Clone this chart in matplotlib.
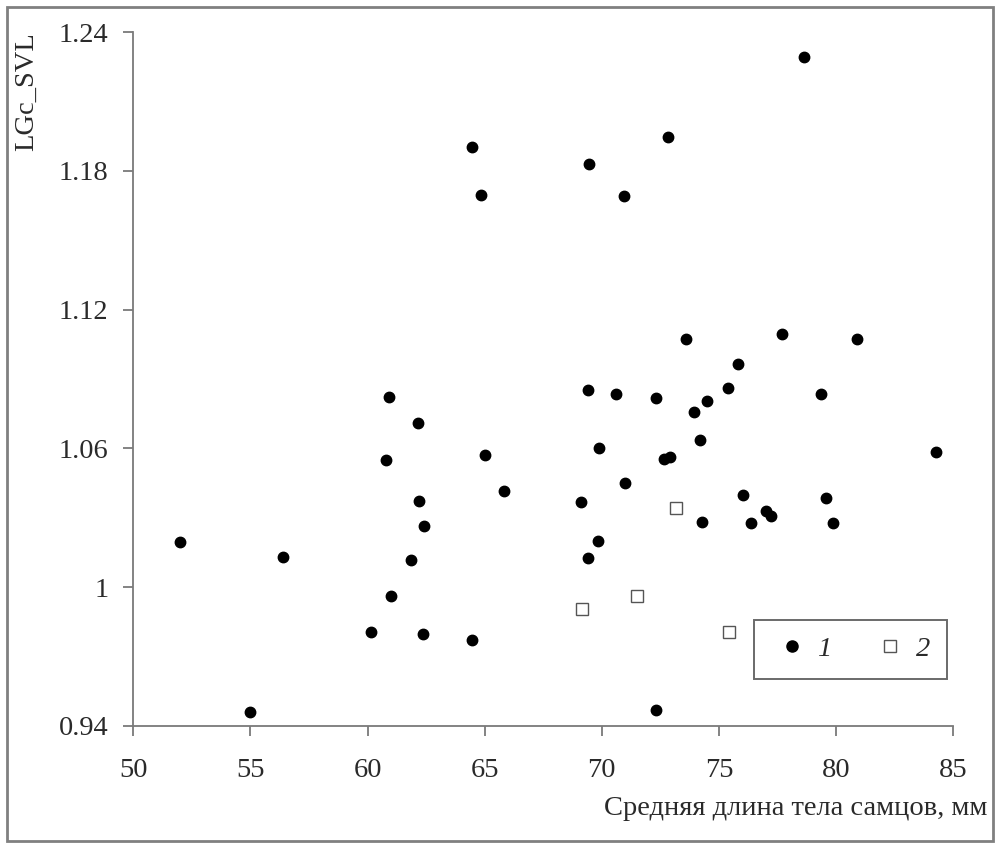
import matplotlib
matplotlib.use("Agg")
import matplotlib.pyplot as plt
from matplotlib.patches import Rectangle
from matplotlib.lines import Line2D

plt.rcParams['font.family'] = ['Liberation Serif', 'DejaVu Serif']

# Group 1 (filled circles)
g1_x = [52.0, 55.0, 56.4, 60.93, 62.15, 60.79, 65.03, 65.84, 62.19, 62.39,
        61.84, 61.01, 60.15, 62.38, 64.45, 73.6, 77.69, 80.9, 75.8, 69.4,
        70.59, 72.32, 75.38, 74.49, 73.92, 79.35, 69.89, 74.19, 72.67, 72.9,
        84.26, 71.0, 69.11, 76.01, 79.58, 74.29, 76.38, 76.99, 77.24, 79.86,
        69.82, 69.4, 72.32, 78.63, 72.82, 64.45, 69.45, 64.82, 70.93]
g1_y = [1.0194, 0.9459, 1.0128, 1.0821, 1.0709, 1.0551, 1.0572, 1.0414, 1.0374, 1.0266,
        1.0116, 0.9963, 0.9805, 0.9797, 0.9772, 1.1074, 1.1095, 1.1074, 1.0963, 1.0851,
        1.0837, 1.0817, 1.0861, 1.0805, 1.0758, 1.0834, 1.0603, 1.0634, 1.0552, 1.0564,
        1.0585, 1.0449, 1.0366, 1.0399, 1.0383, 1.0282, 1.0279, 1.0330, 1.0306, 1.0279,
        1.0200, 1.0125, 0.9468, 1.2295, 1.1946, 1.1904, 1.1828, 1.1697, 1.1690]

# Group 2 (open squares)
g2_x = [73.18, 71.51, 69.17, 75.43]
g2_y = [1.034, 0.9963, 0.9906, 0.9805]

x_ticks = [50, 55, 60, 65, 70, 75, 80, 85]
y_ticks = [0.94, 1.00, 1.06, 1.12, 1.18, 1.24]
y_tick_labels = ['0.94', '1', '1.06', '1.12', '1.18', '1.24']
legend_labels = ['1', '2']

FS = 20.5
TXT = '#2a2a2a'

fig = plt.figure(figsize=(10, 8.47), dpi=100)
ax = fig.add_axes([0.1333, 0.1432, 0.8200, 0.8187])

ax.plot(g1_x, g1_y, linestyle='none', marker='o', ms=7.5, color='black',
        markeredgecolor='black', label=legend_labels[0])
ax.plot(g2_x, g2_y, linestyle='none', marker='s', ms=8.5, markerfacecolor='white',
        markeredgecolor='#555555', markeredgewidth=1.0, label=legend_labels[1])

ax.set_xlim(50, 85)
ax.set_ylim(0.94, 1.24)
ax.set_xticks(x_ticks)
ax.set_xticklabels([str(v) for v in x_ticks])
ax.set_yticks(y_ticks)
ax.set_yticklabels(y_tick_labels)

for s in ['top', 'right']:
    ax.spines[s].set_visible(False)
for s in ['left', 'bottom']:
    ax.spines[s].set_color('#7a7a7a')
    ax.spines[s].set_linewidth(1.3)

ax.tick_params(axis='both', direction='out', length=7, width=1.3, color='#7a7a7a',
               labelsize=FS, labelcolor=TXT)
ax.tick_params(axis='y', pad=11)
ax.tick_params(axis='x', pad=16)

ax.set_ylabel('LGc_SVL', fontsize=FS, color=TXT, loc='top', labelpad=14)
fig.text(0.987, 1 - 808 / 847, 'Средняя длина тела самцов, мм', ha='right', va='center',
         fontsize=FS, color=TXT)

h1 = Line2D([], [], linestyle='none', marker='o', ms=8, color='black')
h2 = Line2D([], [], linestyle='none', marker='s', ms=8.5, markerfacecolor='white',
            markeredgecolor='#555555', markeredgewidth=1.0)
leg = fig.legend([h1, h2], legend_labels, loc='upper left',
                 bbox_to_anchor=(0.754, 1 - 620 / 847), ncol=2, frameon=True,
                 fancybox=False, edgecolor='#6a6a6a', framealpha=1,
                 prop={'family': 'Liberation Serif', 'style': 'italic', 'size': FS},
                 handlelength=1.5, handletextpad=0.15, columnspacing=1.3,
                 borderpad=0.58, borderaxespad=0)
leg.get_frame().set_linewidth(1.4)
for t in leg.get_texts():
    t.set_color(TXT)

border = Rectangle((0.007, 0.007), 0.986, 0.985, transform=fig.transFigure,
                   fill=False, edgecolor='#808080', linewidth=2.0)
fig.patches.append(border)

fig.savefig('out.png', dpi=100)
